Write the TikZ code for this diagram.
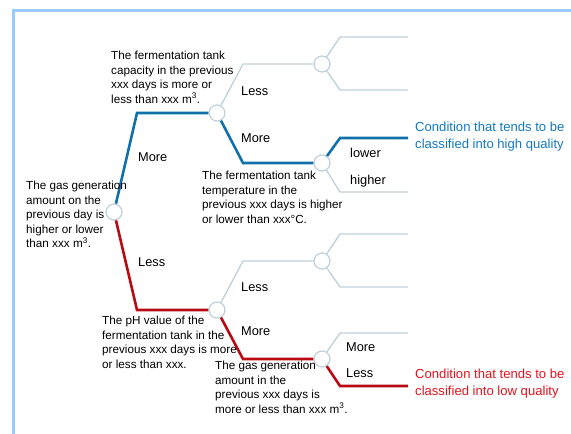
\documentclass[tikz,border=0pt]{standalone}
\usepackage{fontspec}
\setmainfont{Liberation Sans}
\usetikzlibrary{positioning}
\usetikzlibrary{calc}
\definecolor{framecol}{RGB}{153,204,255}
\definecolor{hiblue}{RGB}{16,112,170}
\definecolor{lored}{RGB}{185,10,20}
\definecolor{branchgray}{RGB}{190,208,218}
\definecolor{hitext}{RGB}{20,120,190}
\definecolor{lotext}{RGB}{225,20,30}
\tikzstyle{splitvertex}=[circle,fill=white,draw=branchgray,line width=1.2pt,minimum size=16pt,inner sep=0pt]
\tikzstyle{grayedge} = [draw=branchgray,line width=1.3pt]
\tikzstyle{blueedge} = [draw=hiblue,line width=2.6pt]
\tikzstyle{rededge} = [draw=lored,line width=2.6pt]
\tikzstyle{question} = [align=left,anchor=north west,inner sep=0pt,font=\fontsize{11.7}{14.5}\selectfont]
\tikzstyle{answer} = [anchor=west,inner sep=0pt,font=\fontsize{12.8}{14}\selectfont]
\tikzstyle{result} = [align=left,anchor=north west,inner sep=0pt,font=\fontsize{13.1}{16.5}\selectfont]

\begin{document}
\begin{tikzpicture}[x=1pt,y=-1pt]

    \useasboundingbox (0,0) rectangle (571,434);
    \draw[framecol,line width=3pt] (571,10) -- (13.5,10) -- (13.5,434);

	\def\bx{137};
	\def\cx{243};
	\def\lx{340};
	\def\ex{408};

%layer 1
    \foreach \pos/\name in {{(114,212)/root}}
        \node[splitvertex] (\name) at \pos {};
%layer 2
    \foreach \pos/\name in {{(217,113)/cap}, {(217,310)/ph}}
        \node[splitvertex] (\name) at \pos {};
%layer 3
    \foreach \pos/\name in {{(322,64)/capless}, {(322,163)/temp}, {(322,261)/phless}, {(322,359)/gas}}
        \node[splitvertex] (\name) at \pos {};

% Bends
    \foreach \x/\y/\name in {\bx/113/r1, \bx/310/r2, \cx/64/c1, \cx/163/c2, \cx/261/p1, \cx/359/p2,
        \lx/37/e1, \lx/90/e2, \lx/138/t1, \lx/192/t2, \lx/234/f1, \lx/287/f2, \lx/333/g1, \lx/386/g2}
        \coordinate (\name) at (\x,\y);
% Ends
    \foreach \y/\name in {37/e1e, 90/e2e, 138/t1e, 192/t2e, 234/f1e, 287/f2e, 333/g1e, 386/g2e}
        \coordinate (\name) at (\ex,\y);

 % Edges
  	\foreach \source/\bend/\dest/\kind in {cap/c1/capless/grayedge, phless/f1/f1e/grayedge, phless/f2/f2e/grayedge,
  	    capless/e1/e1e/grayedge, capless/e2/e2e/grayedge, temp/t2/t2e/grayedge, ph/p1/phless/grayedge, gas/g1/g1e/grayedge,
  	    root/r1/cap/blueedge, cap/c2/temp/blueedge, temp/t1/t1e/blueedge,
  	    root/r2/ph/rededge, ph/p2/gas/rededge, gas/g2/g2e/rededge}
		\path[\kind] (\source) -- (\bend) -- (\dest);

   %Questions
   \node[question] (qroot) at (26,181) {The gas generation\\amount on the\\previous day is\\higher or lower\\than xxx m\textsuperscript{3}.};
   \node[question] (qcap) at (111,51) {The fermentation tank\\capacity in the previous\\xxx days is more or\\less than xxx m\textsuperscript{3}.};
   \node[question] (qtemp) at (202,171) {The fermentation tank\\temperature in the\\previous xxx days is higher\\or lower than xxx°C.};
   \node[question] (qph) at (102,316) {The pH value of the\\fermentation tank in the\\previous xxx days is more\\or less than xxx.};
   \node[question] (qgas) at (215,361) {The gas generation\\amount in the\\previous xxx days is\\more or less than xxx m\textsuperscript{3}.};

   %Answers
   \foreach \pos/\name/\label in {{(138,157)/aroot1/More}, {(138,262)/aroot2/Less}, {(241,91)/acap1/Less}, {(241,138)/acap2/More},
       {(350,153)/atemp1/lower}, {(350,181)/atemp2/higher}, {(241,287)/aph1/Less}, {(241,331)/aph2/More},
       {(346,347)/agas1/More}, {(346,373)/agas2/Less}}
       \node[answer] (\name) at \pos {\label};

   %Results
   \node[result,text=hitext] (high) at (415,122) {Condition that tends to be\\classified into high quality};
   \node[result,text=lotext] (low) at (415,369) {Condition that tends to be\\classified into low quality};

\end{tikzpicture}
\end{document}
